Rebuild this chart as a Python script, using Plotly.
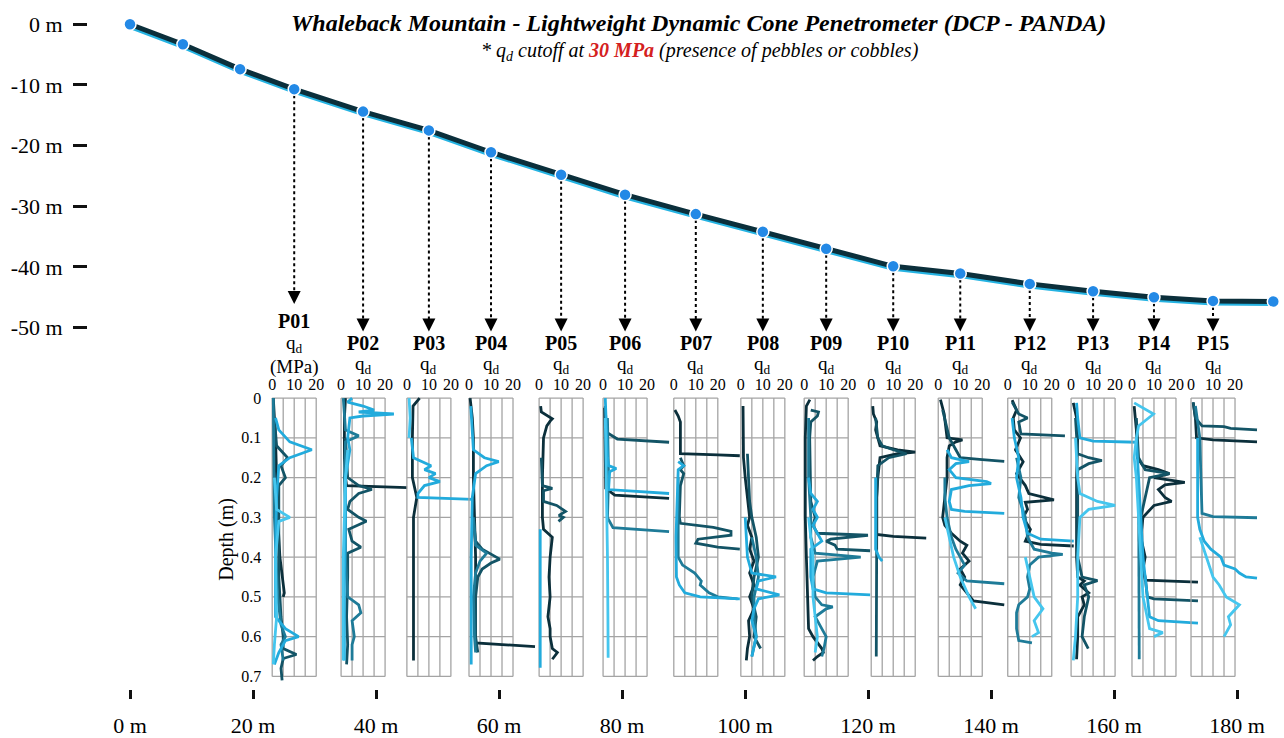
import plotly.graph_objects as go

# ---------------- data ----------------
stations = ["P01", "P02", "P03", "P04", "P05", "P06", "P07", "P08",
            "P09", "P10", "P11", "P12", "P13", "P14", "P15"]
station_dist = [26.7, 37.9, 48.6, 58.7, 70.1, 80.5, 92.0, 102.9,
                113.2, 124.1, 135.0, 146.3, 156.6, 166.5, 176.1]

profile_dist = [0.0, 8.6, 17.9, 26.7, 37.9, 48.6, 58.7, 70.1, 80.5, 92.0,
                102.9, 113.2, 124.1, 135.0, 146.3, 156.6, 166.5, 176.1, 185.9]
profile_elev_a = [0.0, -3.3, -7.4, -10.7, -14.4, -17.5, -21.1, -24.8, -28.1, -31.3,
                  -34.2, -37.0, -39.9, -41.1, -42.8, -44.0, -45.0, -45.6, -45.7]
profile_elev_b = [-0.3, -3.6, -7.7, -11.0, -14.7, -17.8, -21.4, -25.1, -28.4, -31.6,
                  -34.5, -37.3, -40.2, -41.4, -43.1, -44.3, -45.3, -45.9, -46.0]

x_ticks = [0, 20, 40, 60, 80, 100, 120, 140, 160, 180]
x_tick_labels = ["0 m", "20 m", "40 m", "60 m", "80 m", "100 m", "120 m", "140 m", "160 m", "180 m"]
y_ticks = [0, -10, -20, -30, -40, -50]
y_tick_labels = ["0 m", "-10 m", "-20 m", "-30 m", "-40 m", "-50 m"]
qd_ticks = [0, 10, 20]
qd_grid = [0, 5, 10, 15, 20]
depth_ticks = [0, 0.1, 0.2, 0.3, 0.4, 0.5, 0.6, 0.7]
depth_tick_labels = ["0", "0.1", "0.2", "0.3", "0.4", "0.5", "0.6", "0.7"]

# each station: tests T1..T5, each a list of (depth m, qd MPa)
P01 = [
    [(0, 0.5), (0.05, 1), (0.1, 1.5), (0.2, 2), (0.3, 2.5), (0.4, 3.5), (0.45, 4.5), (0.49, 5.5), (0.5, 5)],
    [(0.05, 1), (0.12, 2), (0.15, 7), (0.17, 4), (0.2, 6), (0.22, 3), (0.3, 3), (0.45, 3), (0.55, 4),
     (0.6, 5), (0.63, 5), (0.645, 11), (0.655, 5), (0.68, 4), (0.71, 4.5)],
    [(0, 0.5), (0.3, 1), (0.5, 2.5), (0.57, 4), (0.6, 6), (0.62, 4), (0.66, 5)],
    [(0.05, 1.5), (0.08, 3), (0.11, 8), (0.13, 18), (0.15, 8), (0.17, 3), (0.25, 2), (0.4, 1.5),
     (0.55, 1.5), (0.58, 6), (0.6, 12), (0.61, 6), (0.64, 3), (0.67, 1)],
    [(0.2, 1), (0.28, 2), (0.3, 8), (0.31, 3), (0.4, 1.5), (0.55, 2), (0.62, 1), (0.67, 0.5)],
]
P02 = [
    [(0, 2), (0.05, 1.5), (0.1, 1.5), (0.15, 1.5), (0.2, 2), (0.22, 2.5), (0.225, 30)],
    [(0.1, 2), (0.2, 3), (0.22, 8), (0.23, 14), (0.24, 8), (0.26, 4), (0.28, 3), (0.3, 8), (0.31, 11.5),
     (0.33, 3.5), (0.36, 5), (0.375, 9), (0.39, 3), (0.45, 3), (0.55, 2.5), (0.62, 3), (0.67, 2.5)],
    [(0, 1), (0.08, 2), (0.095, 8), (0.11, 2), (0.2, 1.5), (0.3, 2), (0.4, 2), (0.5, 3), (0.52, 8),
     (0.54, 9), (0.56, 5), (0.6, 6), (0.62, 5), (0.66, 5)],
    [(0, 5), (0.01, 3), (0.02, 10), (0.03, 15), (0.035, 8), (0.04, 24), (0.045, 10), (0.05, 4), (0.1, 3),
     (0.13, 4), (0.2, 2), (0.3, 2), (0.45, 1.5), (0.6, 1.5), (0.66, 1.5)],
    [(0.13, 3), (0.2, 2), (0.4, 1), (0.6, 1), (0.66, 1)],
]
P03 = [
    [(0, 5.8), (0.02, 2.8), (0.1, 2.5), (0.2, 2.5), (0.25, 4.5), (0.3, 3), (0.4, 3), (0.5, 3), (0.6, 3), (0.66, 3)],
    [],
    [],
    [(0.1, 2), (0.15, 3), (0.17, 11), (0.18, 8), (0.19, 13), (0.2, 10), (0.21, 15), (0.22, 8), (0.24, 5),
     (0.25, 5), (0.255, 30)],
    [(0, 1), (0.05, 1.5), (0.1, 1)],
]
P04 = [
    [(0, 0.5), (0.05, 1.5), (0.1, 2), (0.2, 2), (0.3, 2.5), (0.4, 3), (0.5, 3), (0.6, 3), (0.616, 3), (0.625, 30)],
    [(0.3, 2), (0.36, 3), (0.38, 6), (0.405, 14), (0.415, 10), (0.43, 6), (0.45, 4), (0.5, 3), (0.6, 3), (0.64, 4)],
    [(0.3, 2), (0.37, 3), (0.39, 8), (0.41, 5), (0.44, 3), (0.5, 2), (0.6, 2.5), (0.64, 3)],
    [(0.02, 0.8), (0.1, 1.5), (0.13, 2), (0.15, 7), (0.16, 13.5), (0.17, 8), (0.19, 3), (0.25, 1.5),
     (0.4, 1), (0.55, 1), (0.67, 1)],
    [],
]
P05 = [
    [(0.02, 0.7), (0.035, 1), (0.052, 6), (0.058, 5), (0.07, 3.5), (0.1, 2), (0.2, 1.5), (0.3, 1.5), (0.33, 2),
     (0.35, 6), (0.4, 5), (0.45, 4.5), (0.5, 5), (0.55, 4), (0.58, 5), (0.6, 5), (0.63, 6), (0.64, 8.3), (0.657, 6)],
    [(0.15, 1), (0.22, 1.5), (0.227, 6), (0.233, 2), (0.26, 2), (0.27, 8), (0.285, 12), (0.295, 9),
     (0.3, 11), (0.31, 8.8)],
    [],
    [(0.33, 0.5), (0.4, 0.5), (0.5, 0.5), (0.6, 0.5), (0.678, 0.5)],
    [],
]
P06 = [
    [(0.024, 0.7), (0.1, 0.8), (0.2, 1), (0.227, 1.2), (0.244, 5.3), (0.252, 30)],
    [(0.02, 1), (0.086, 1.5), (0.103, 6.5), (0.111, 30)],
    [(0.05, 2), (0.2, 2.5), (0.301, 2), (0.326, 4.5), (0.336, 30)],
    [(0.0, 1), (0.15, 2), (0.17, 2.5), (0.177, 6), (0.185, 3), (0.23, 2.5), (0.24, 30)],
    [(0.05, 1), (0.2, 1.5), (0.4, 2), (0.55, 2.2), (0.653, 2.3)],
]
P07 = [
    [(0.03, 0.5), (0.045, 2), (0.06, 3), (0.1, 3), (0.14, 3), (0.143, 20), (0.145, 30)],
    [(0.15, 3), (0.17, 4.5), (0.18, 3), (0.19, 4.5), (0.22, 3), (0.3, 2.5), (0.315, 3), (0.325, 18),
     (0.335, 26), (0.345, 26), (0.355, 11), (0.365, 10), (0.375, 20), (0.38, 30)],
    [(0.2, 2), (0.3, 2), (0.4, 2), (0.42, 4), (0.44, 9.5), (0.46, 12.5), (0.47, 12), (0.49, 16), (0.5, 20), (0.505, 29)],
    [(0.16, 2), (0.17, 4.5), (0.18, 2), (0.25, 1.5), (0.35, 1), (0.45, 1.2), (0.47, 2.5), (0.49, 5),
     (0.5, 12), (0.505, 30)],
    [],
]
P08 = [
    [(0.02, 1), (0.1, 1), (0.15, 1.2), (0.2, 2), (0.25, 3), (0.3, 4), (0.32, 3), (0.35, 5), (0.38, 4), (0.41, 6),
     (0.44, 4), (0.47, 6), (0.5, 4), (0.53, 6), (0.56, 3.5), (0.6, 4), (0.63, 3), (0.66, 2.5)],
    [(0.14, 3), (0.2, 3.5), (0.26, 4), (0.3, 5), (0.35, 7), (0.4, 8), (0.45, 6), (0.5, 5), (0.55, 7), (0.6, 6), (0.63, 9)],
    [(0.35, 5), (0.4, 7), (0.45, 8), (0.5, 6), (0.55, 6), (0.6, 7), (0.65, 5)],
    [(0.3, 2), (0.4, 3), (0.44, 5), (0.45, 16), (0.46, 8), (0.48, 7), (0.495, 17.5), (0.505, 8), (0.53, 6),
     (0.56, 5), (0.6, 7), (0.65, 5)],
    [],
]
P09 = [
    [(0.004, 2.6), (0.02, 1), (0.1, 0.5), (0.2, 0.5), (0.3, 0.5), (0.4, 1), (0.5, 1.5), (0.58, 2), (0.6, 4),
     (0.63, 8), (0.64, 8.7), (0.65, 6), (0.66, 4)],
    [(0.03, 3), (0.035, 6.5), (0.045, 6), (0.06, 3), (0.1, 2.5), (0.2, 3), (0.26, 3), (0.3, 5), (0.32, 4),
     (0.34, 6), (0.345, 29), (0.355, 12), (0.36, 10), (0.37, 14), (0.38, 15), (0.384, 30)],
    [(0.05, 2), (0.2, 2), (0.3, 3), (0.35, 3), (0.39, 5), (0.4, 25.7), (0.41, 6), (0.45, 4), (0.5, 5), (0.52, 8),
     (0.525, 13), (0.53, 10), (0.55, 5), (0.58, 8), (0.6, 10), (0.63, 9), (0.65, 8)],
    [(0.2, 2), (0.24, 3), (0.26, 6), (0.28, 4), (0.3, 6), (0.32, 4), (0.36, 8), (0.38, 3), (0.45, 3),
     (0.48, 4), (0.49, 10), (0.495, 30)],
    [(0.3, 2), (0.4, 4), (0.5, 4), (0.55, 5), (0.6, 6), (0.64, 5)],
]
P10 = [
    [(0.02, 0.7), (0.04, 1), (0.06, 2.5), (0.08, 2), (0.1, 3), (0.12, 4), (0.13, 12), (0.136, 20), (0.14, 12),
     (0.15, 4), (0.2, 3), (0.25, 2.5), (0.3, 2.5), (0.343, 2.5), (0.348, 10), (0.352, 25)],
    [(0.05, 2), (0.1, 3), (0.12, 5), (0.13, 10), (0.14, 16), (0.15, 8), (0.17, 3), (0.25, 2.5), (0.35, 2.5),
     (0.45, 2.5), (0.55, 2.5), (0.65, 2.3)],
    [],
    [(0.2, 2), (0.3, 2), (0.38, 2), (0.4, 3.5), (0.41, 5)],
    [],
]
P11 = [
    [(0.004, 1), (0.04, 2.7), (0.1, 4), (0.105, 11), (0.11, 8), (0.12, 5), (0.15, 4), (0.2, 4), (0.25, 3),
     (0.3, 2), (0.32, 3), (0.34, 6), (0.36, 10), (0.37, 13), (0.39, 11), (0.41, 14), (0.43, 10), (0.45, 12),
     (0.47, 10), (0.49, 13), (0.51, 16), (0.52, 30)],
    [(0.03, 2), (0.1, 5), (0.13, 8), (0.15, 10), (0.155, 20), (0.159, 30)],
    [(0.2, 3), (0.25, 3), (0.3, 4), (0.35, 6), (0.38, 8), (0.4, 10), (0.42, 12), (0.44, 9), (0.46, 13), (0.467, 30)],
    [(0.13, 4), (0.15, 6), (0.16, 14), (0.165, 8), (0.18, 5), (0.2, 8), (0.21, 22), (0.215, 24), (0.22, 14),
     (0.23, 6), (0.26, 5), (0.28, 6), (0.285, 12), (0.29, 30)],
    [(0.3, 3), (0.35, 5), (0.4, 7), (0.45, 10), (0.5, 14), (0.53, 17)],
]
P12 = [
    [(0.005, 2), (0.03, 4), (0.05, 2.5), (0.08, 3), (0.1, 5.8), (0.13, 3.5), (0.16, 7), (0.19, 4), (0.22, 8),
     (0.24, 9.6), (0.256, 21), (0.262, 8), (0.28, 9), (0.3, 7), (0.33, 10.3), (0.36, 8), (0.368, 15), (0.372, 30)],
    [(0.01, 2), (0.04, 5), (0.05, 9), (0.06, 5), (0.09, 6), (0.095, 26)],
    [(0.15, 4), (0.2, 6), (0.25, 5), (0.3, 8), (0.35, 9), (0.38, 12), (0.39, 20), (0.393, 25), (0.4, 14),
     (0.42, 10), (0.45, 9), (0.48, 10), (0.5, 9), (0.52, 5), (0.54, 4), (0.58, 4), (0.61, 5), (0.616, 11)],
    [(0.05, 2), (0.1, 3), (0.15, 5), (0.2, 4), (0.25, 6), (0.3, 7), (0.34, 9), (0.355, 15), (0.36, 30)],
    [(0.4, 8), (0.45, 10), (0.5, 12), (0.53, 16), (0.56, 12), (0.59, 14), (0.6, 11)],
]
P13 = [
    [(0.012, 1), (0.05, 2.5), (0.1, 3), (0.2, 2.5), (0.3, 2.5), (0.4, 2.5), (0.45, 3), (0.46, 6), (0.47, 4),
     (0.49, 8), (0.5, 5), (0.52, 6), (0.55, 3), (0.6, 3), (0.657, 2.5)],
    [(0.05, 2), (0.14, 3), (0.15, 8), (0.157, 14), (0.165, 8), (0.18, 3), (0.3, 3), (0.4, 3), (0.45, 5),
     (0.459, 12), (0.47, 6), (0.5, 8), (0.55, 6), (0.6, 5), (0.63, 7.8)],
    [],
    [(0.012, 2.5), (0.05, 3), (0.1, 4), (0.108, 10), (0.111, 30)],
    [(0.1, 2), (0.2, 3), (0.24, 4), (0.26, 12), (0.27, 20), (0.28, 8), (0.3, 4), (0.4, 3), (0.5, 3), (0.6, 2), (0.66, 1)],
]
P14 = [
    [(0.02, 1), (0.08, 2), (0.15, 2.5), (0.17, 5), (0.18, 12), (0.19, 17), (0.2, 10), (0.212, 24), (0.218, 15),
     (0.23, 12), (0.25, 15), (0.26, 18), (0.27, 10), (0.3, 5), (0.35, 4), (0.4, 6), (0.43, 5), (0.458, 6), (0.463, 30)],
    [(0.05, 2), (0.15, 3), (0.18, 6), (0.19, 17), (0.2, 8), (0.25, 6), (0.3, 4), (0.4, 4), (0.45, 6), (0.5, 7),
     (0.505, 10), (0.51, 30)],
    [(0.2, 3), (0.3, 3), (0.4, 3), (0.5, 3), (0.6, 3), (0.657, 3.3)],
    [(0.1, 2), (0.2, 3), (0.3, 4), (0.4, 5), (0.5, 7), (0.55, 8), (0.56, 12), (0.566, 30)],
    [(0.012, 1), (0.04, 9.8), (0.07, 3), (0.1, 2), (0.15, 1), (0.2, 2), (0.3, 3), (0.4, 4), (0.5, 5), (0.58, 8),
     (0.59, 14), (0.595, 12), (0.6, 10)],
]
P15 = [
    [(0.012, 1), (0.05, 2), (0.1, 2.5), (0.105, 10), (0.11, 30)],
    [(0.01, 1), (0.05, 2), (0.07, 5), (0.072, 15), (0.076, 18), (0.08, 30)],
    [(0.02, 2), (0.1, 4), (0.2, 4.5), (0.29, 5), (0.298, 10), (0.301, 30)],
    [(0.1, 3), (0.2, 3), (0.3, 3), (0.33, 4), (0.36, 6), (0.38, 9), (0.4, 13.6), (0.42, 15), (0.43, 20),
     (0.44, 22), (0.45, 25), (0.453, 30)],
    [(0.35, 4), (0.4, 7), (0.45, 10), (0.47, 12.8), (0.5, 16), (0.52, 22), (0.55, 17), (0.57, 18), (0.59, 16), (0.6, 15)],
]
station_tests = [P01, P02, P03, P04, P05, P06, P07, P08, P09, P10, P11, P12, P13, P14, P15]

# ---------------- styling / geometry ----------------
W, H = 1284, 738
FONT = "Liberation Serif, Times New Roman, serif"
TEST_COLORS = ["#0b2f3b", "#135466", "#1e7b98", "#22abdc", "#45c6ee"]
PROFILE_DARK = "#0b2f3b"
PROFILE_CYAN = "#25b3e2"
DOT_COLOR = "#2389e6"

X0_PX, PXM_X = 130.0, 6.15       # main x: 0 m at px 130
Y0_PX, PXM_Y = 19.5, 6.15        # main y: 0 m at px 19.5
PLOT_LEFT_PX, PLOT_BOTTOM_PX = 88.0, 693.0
BOX_HALF_PX, PX_PER_MPA = 22.0, 2.2
DEPTH_TOP_PX, PX_PER_M_DEPTH = 398.5, 403.0
INSET_PAD_L, INSET_PAD_R = 4.0, 70.0
INSET_TOP_PX, INSET_BOTTOM_PX = 395.5, 688.0


def py(p):
    return 1 - p / H


def elev_at_px(p):
    return -(p - Y0_PX) / PXM_Y


fig = go.Figure()

# main profile
fig.add_trace(go.Scatter(x=profile_dist, y=profile_elev_b, mode="lines",
                         line=dict(color=PROFILE_CYAN, width=5.5), hoverinfo="skip", showlegend=False))
fig.add_trace(go.Scatter(x=profile_dist, y=profile_elev_a, mode="lines",
                         line=dict(color=PROFILE_DARK, width=5), hoverinfo="skip", showlegend=False))
fig.add_trace(go.Scatter(x=profile_dist, y=profile_elev_a, mode="markers",
                         marker=dict(color=DOT_COLOR, size=12, line=dict(color="white", width=1.5)),
                         showlegend=False))

shapes = []
annotations = []
tip_first = elev_at_px(303)
tip_other = elev_at_px(331)
dot_elev = {d: e for d, e in zip(profile_dist, profile_elev_a)}
tips = []
for i, (name, s) in enumerate(zip(stations, station_dist)):
    tip = tip_first if i == 0 else tip_other
    tips.append(tip)
    shapes.append(dict(type="line", xref="x", yref="y", x0=s, x1=s, y0=dot_elev[s], y1=tip + 1.0,
                       line=dict(color="black", width=2, dash="dot"), layer="below"))
fig.add_trace(go.Scatter(x=station_dist, y=tips, mode="markers",
                         marker=dict(symbol="arrow-down", size=13, color="black"),
                         showlegend=False, hoverinfo="skip"))

layout = dict(
    width=W, height=H, margin=dict(l=0, r=0, t=0, b=0),
    paper_bgcolor="white", plot_bgcolor="rgba(0,0,0,0)",
    font=dict(family=FONT, color="black", size=18),
    showlegend=False,
    xaxis=dict(domain=[PLOT_LEFT_PX / W, 1],
               range=[(PLOT_LEFT_PX - X0_PX) / PXM_X, (W - X0_PX) / PXM_X],
               tickvals=x_ticks, ticktext=x_tick_labels, ticks="outside", ticklen=9, tickwidth=3,
               tickcolor="#111", showgrid=False, zeroline=False, showline=False,
               tickfont=dict(size=22, family=FONT), ticklabelstandoff=8),
    yaxis=dict(domain=[py(PLOT_BOTTOM_PX), 1],
               range=[elev_at_px(PLOT_BOTTOM_PX), elev_at_px(0)],
               tickvals=y_ticks, ticktext=y_tick_labels, ticks="outside", ticklen=14, tickwidth=3,
               tickcolor="#111", showgrid=False, zeroline=False, showline=False,
               tickfont=dict(size=22, family=FONT), ticklabelstandoff=6),
)

# insets
for i, (name, s, tests) in enumerate(zip(stations, station_dist, station_tests)):
    n = i + 2
    cpx = X0_PX + s * PXM_X
    left_px = cpx - BOX_HALF_PX
    xa, ya = f"x{n}", f"y{n}"
    layout[f"xaxis{n}"] = dict(
        domain=[(left_px - INSET_PAD_L) / W, (left_px + INSET_PAD_R) / W],
        range=[-INSET_PAD_L / PX_PER_MPA, INSET_PAD_R / PX_PER_MPA],
        anchor=ya, side="top", tickvals=qd_ticks, ticks="", showgrid=False, zeroline=False,
        showline=False, tickfont=dict(size=16, family=FONT), ticklabelstandoff=1)
    ydict = dict(
        domain=[py(INSET_BOTTOM_PX), py(INSET_TOP_PX)],
        range=[(INSET_BOTTOM_PX - DEPTH_TOP_PX) / PX_PER_M_DEPTH, (INSET_TOP_PX - DEPTH_TOP_PX) / PX_PER_M_DEPTH],
        anchor=xa, showgrid=False, zeroline=False, showline=False, ticks="")
    if i == 0:
        ydict.update(tickvals=depth_ticks, ticktext=depth_tick_labels, showticklabels=True,
                     tickfont=dict(size=16, family=FONT), ticklabelstandoff=6,
                     title=dict(text="Depth (m)", font=dict(size=20, family=FONT), standoff=2))
    else:
        ydict.update(showticklabels=False)
    layout[f"yaxis{n}"] = ydict

    for q in qd_grid:
        shapes.append(dict(type="line", xref=xa, yref=ya, x0=q, x1=q, y0=0, y1=0.7,
                           line=dict(color="#a4a4a4", width=1.3), layer="below"))
    for d in depth_ticks:
        shapes.append(dict(type="line", xref=xa, yref=ya, x0=0, x1=20, y0=d, y1=d,
                           line=dict(color="#a4a4a4", width=1.3), layer="below"))

    for k, test in enumerate(tests):
        if not test:
            continue
        fig.add_trace(go.Scatter(x=[p[1] for p in test], y=[p[0] for p in test], mode="lines",
                                 line=dict(color=TEST_COLORS[k], width=2.8),
                                 xaxis=xa, yaxis=ya, showlegend=False, hoverinfo="skip"))

    # labels
    if i == 0:
        annotations += [
            dict(x=s, xref="x", y=py(320), yref="paper", text="<b>P01</b>", showarrow=False,
                 font=dict(size=20, family=FONT)),
            dict(x=s, xref="x", y=py(344), yref="paper", text="q<sub>d</sub>", showarrow=False,
                 font=dict(size=19, family=FONT)),
            dict(x=s, xref="x", y=py(367), yref="paper", text="(MPa)", showarrow=False,
                 font=dict(size=19, family=FONT)),
        ]
    else:
        annotations += [
            dict(x=s, xref="x", y=py(343), yref="paper", text=f"<b>{name}</b>", showarrow=False,
                 font=dict(size=20, family=FONT)),
            dict(x=s, xref="x", y=py(365), yref="paper", text="q<sub>d</sub>", showarrow=False,
                 font=dict(size=19, family=FONT)),
        ]

annotations += [
    dict(x=698 / W, y=py(18), xref="paper", yref="paper", showarrow=False,
         xanchor="center", yanchor="middle",
         text="<b><i>Whaleback Mountain - Lightweight Dynamic Cone Penetrometer (DCP - PANDA)</i></b>",
         font=dict(size=24, family=FONT)),
    dict(x=700 / W, y=py(47), xref="paper", yref="paper", showarrow=False,
         xanchor="center", yanchor="middle",
         text="<i>* q<sub>d</sub> cutoff at <b><span style='color:#d42020'>30 MPa</span></b> "
              "(presence of pebbles or cobbles)</i>",
         font=dict(size=20, family=FONT)),
]
for a in annotations:
    a.setdefault("yanchor", "middle")

layout["shapes"] = shapes
layout["annotations"] = annotations
fig.update_layout(**layout)
fig.write_html("out.html")
